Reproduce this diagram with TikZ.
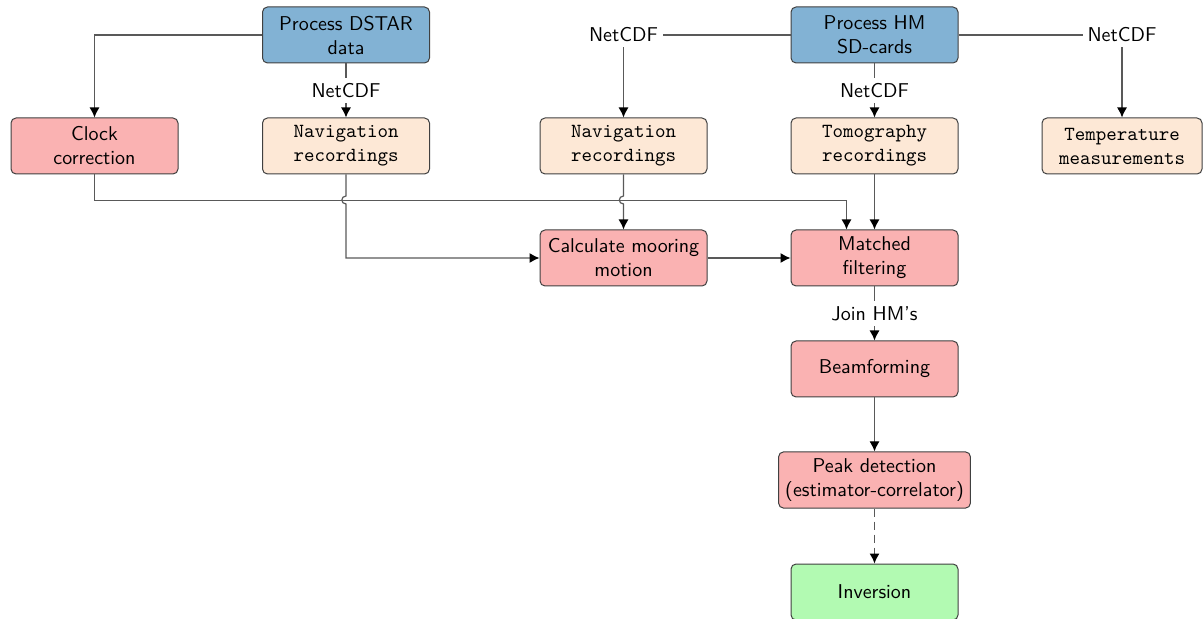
\documentclass[tikz,border=0pt]{standalone}
\usetikzlibrary{arrows.meta,calc}
\definecolor{procblue}{RGB}{130,178,212}
\definecolor{taskred}{RGB}{250,178,178}
\definecolor{databeige}{RGB}{253,232,214}
\definecolor{resgreen}{RGB}{178,250,178}
\tikzset{
 box/.style={draw=black!75, rounded corners=2.5pt, minimum width=83.5pt, minimum height=28pt, align=center, font=\sffamily, text=black, line width=0.5pt},
 proc/.style={box, fill=procblue},
 task/.style={box, fill=taskred},
 databox/.style={box, fill=databeige, font=\ttfamily},
 res/.style={box, fill=resgreen},
 conn/.style={draw=black!65, line width=0.6pt, -{Latex[length=5pt,width=5pt,black]}},
 lbl/.style={fill=white, font=\sffamily, inner sep=2.5pt},
}
\begin{document}
\begin{tikzpicture}[x=0.5pt,y=-0.5pt]
\useasboundingbox (0,0) rectangle (1203,619);
\node[proc] (dstar) at (346,35) {Process DSTAR\\data};
\node[proc] (hm) at (874.5,35) {Process HM\\SD-cards};
\node[task] (clock) at (94.5,146) {Clock\\correction};
\node[databox] (nav1) at (346,146) {Navigation\\recordings};
\node[databox] (nav2) at (623.5,146) {Navigation\\recordings};
\node[databox] (tomo) at (874.5,146) {Tomography\\recordings};
\node[databox, minimum width=80pt] (temp) at (1122,146) {Temperature\\measurements};
\node[task] (calc) at (623.5,258) {Calculate mooring\\motion};
\node[task] (match) at (874.5,258) {Matched\\filtering};
\node[task] (beam) at (874.5,369) {Beamforming};
\node[task] (peak) at (874.5,480) {Peak detection\\(estimator-correlator)};
\node[res] (inv) at (874.5,592) {Inversion};

\draw[conn] (dstar.west) -| (clock.north);
\draw[conn] (dstar.south) -- node[lbl]{NetCDF} (nav1.north);
\draw[conn] (hm.west) -| node[lbl]{NetCDF} (nav2.north);
\draw[conn] (hm.east) -| node[lbl]{NetCDF} (temp.north);
\draw[conn] (hm.south) -- node[lbl]{NetCDF} (tomo.north);
\draw[conn] (clock.south) -- ++(0,26) -| ([xshift=-14pt]match.north);
\draw[conn] (nav1.south) -- (346,196) .. controls (340.5,196) and (340.5,204) .. (346,204) |- (calc.west);
\draw[conn] (nav2.south) -- (623.5,196) .. controls (618,196) and (618,204) .. (623.5,204) -- (calc.north);
\draw[conn] (tomo.south) -- (match.north);
\draw[conn] (calc.east) -- (match.west);
\draw[conn] (match.south) -- node[lbl]{Join HM's} (beam.north);
\draw[conn] (beam.south) -- (peak.north);
\draw[conn, dash pattern=on 4pt off 2.5pt] (peak.south) -- (inv.north);
\end{tikzpicture}
\end{document}
